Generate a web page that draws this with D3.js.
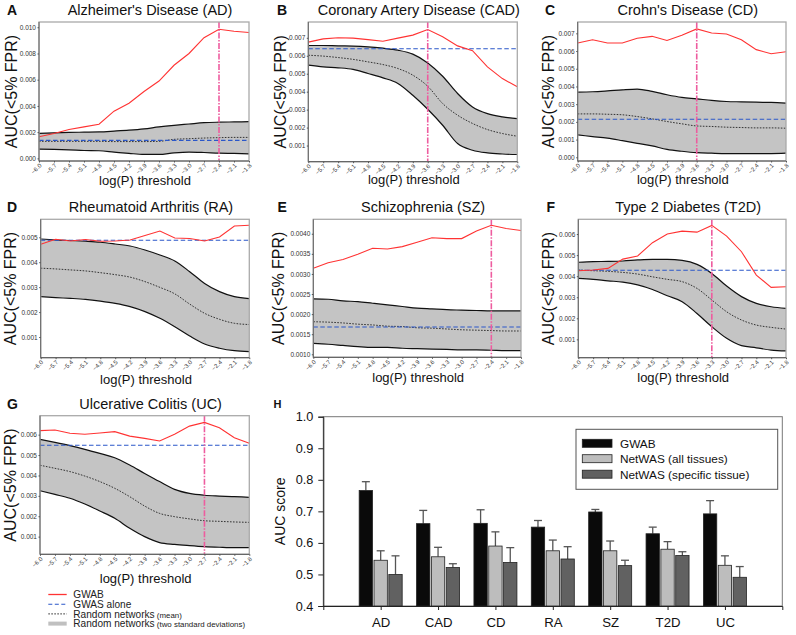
<!DOCTYPE html>
<html><head><meta charset="utf-8">
<script src="https://cdn.jsdelivr.net/npm/d3@7"></script>
<style>
body{margin:0;background:#fff}
svg{display:block}
text{font-family:"Liberation Sans",Arial,Helvetica,sans-serif}
</style>
</head><body>
<svg id="chart" width="796" height="635"></svg>
<script>
// ---------- DATA ----------
const logP = [-6.0,-5.7,-5.4,-5.1,-4.8,-4.5,-4.2,-3.9,-3.6,-3.3,-3.0,-2.7,-2.4,-2.1,-1.8];

// A: Alzheimer's Disease
const adGWAB  = [0.00165,0.0019,0.0022,0.0024,0.0026,0.0036,0.0042,0.0051,0.0059,0.0071,0.0080,0.0092,0.00985,0.0097,0.0096];
const adUpper = [0.0019,0.00195,0.00198,0.0020,0.00202,0.00208,0.00215,0.00225,0.0024,0.00252,0.00262,0.00272,0.00276,0.00278,0.0028];
const adMean  = [0.0013,0.0013,0.0013,0.0013,0.0013,0.00128,0.00128,0.00128,0.0013,0.00145,0.0015,0.00155,0.00158,0.0016,0.0016];
const adLower = [0.0007,0.00068,0.00065,0.0006,0.00058,0.00048,0.00038,0.0003,0.0003,0.00042,0.00048,0.00045,0.0004,0.00038,0.00035];
const adGWAS = 0.00137, adBest = -2.4;
const adTicks = [0,0.002,0.004,0.006,0.008,0.010];

// B: Coronary Artery Disease
const cadGWAB  = [0.00676,0.00694,0.0070,0.00698,0.0069,0.00681,0.00698,0.00715,0.00746,0.00706,0.00655,0.00628,0.00538,0.00473,0.00427];
const cadUpper = [0.00657,0.00657,0.00655,0.00654,0.0065,0.00642,0.00631,0.00609,0.0056,0.00486,0.0039,0.00315,0.00278,0.0026,0.0025];
const cadMean  = [0.00603,0.00598,0.0059,0.0058,0.00566,0.00551,0.00529,0.00492,0.0043,0.00334,0.00269,0.00223,0.00189,0.00167,0.00152];
const cadLower = [0.00548,0.00538,0.00533,0.00524,0.00501,0.00477,0.00446,0.0038,0.00302,0.00213,0.00111,0.00074,0.00059,0.00053,0.0005];
const cadGWAS = 0.00639, cadBest = -3.6;
const cadTicks = [0.001,0.002,0.003,0.004,0.005,0.006,0.007];

// C: Crohn's Disease
const cdGWAB  = [0.00645,0.00664,0.00645,0.00645,0.00672,0.00683,0.0066,0.00689,0.00725,0.00702,0.00696,0.00664,0.00608,0.00585,0.00596];
const cdUpper = [0.00368,0.0037,0.00375,0.00381,0.00385,0.00372,0.00353,0.00338,0.0033,0.00321,0.00315,0.00313,0.00311,0.0031,0.00306];
const cdMean  = [0.00245,0.00245,0.00243,0.0024,0.0023,0.00217,0.00202,0.00189,0.00177,0.00174,0.0017,0.00168,0.00166,0.00166,0.00164];
const cdLower = [0.00126,0.00117,0.00108,0.00094,0.00079,0.00064,0.00045,0.00034,0.00026,0.00023,0.00021,0.00021,0.00021,0.00021,0.00023];
const cdGWAS = 0.00215, cdBest = -3.6;
const cdTicks = [0,0.001,0.002,0.003,0.004,0.005,0.006,0.007];

// D: Rheumatoid Arthritis
const raGWAB  = [0.00472,0.00492,0.00485,0.00491,0.00484,0.00485,0.00489,0.00507,0.00525,0.00497,0.00495,0.00485,0.00501,0.00545,0.00548];
const raUpper = [0.00493,0.00489,0.00487,0.00484,0.0048,0.00473,0.00465,0.00449,0.00429,0.00405,0.00362,0.00315,0.00282,0.00262,0.00254];
const raMean  = [0.00376,0.00373,0.00369,0.00365,0.00358,0.0035,0.0034,0.00322,0.00299,0.00273,0.00232,0.00195,0.00171,0.00155,0.0015];
const raLower = [0.00262,0.00258,0.00255,0.00251,0.00244,0.00235,0.00222,0.00202,0.00175,0.00141,0.00104,0.00072,0.00055,0.00045,0.00041];
const raGWAS = 0.00488, raBest = null;
const raTicks = [0.001,0.002,0.003,0.004,0.005];

// E: Schizophrenia
const szGWAB  = [0.00314,0.00328,0.00336,0.00349,0.00364,0.00362,0.00368,0.00379,0.0039,0.00388,0.00388,0.00407,0.00421,0.00413,0.00408];
const szUpper = [0.00238,0.00237,0.00233,0.00231,0.00227,0.00223,0.00219,0.00215,0.00213,0.00211,0.0021,0.00209,0.00208,0.00208,0.00208];
const szMean  = [0.00181,0.0018,0.00178,0.00175,0.00173,0.0017,0.00169,0.00166,0.00165,0.00163,0.00161,0.0016,0.00159,0.00158,0.00158];
const szLower = [0.00127,0.00125,0.00122,0.00119,0.00117,0.00117,0.00115,0.00114,0.00113,0.00112,0.00111,0.00111,0.0011,0.00109,0.00109];
const szGWAS = 0.00168, szBest = -2.4;
const szTicks = [0.0010,0.0015,0.0020,0.0025,0.0030,0.0035,0.0040];

// F: Type 2 Diabetes
const t2dGWAB  = [0.00426,0.00429,0.00437,0.00481,0.00496,0.00559,0.0060,0.00614,0.00609,0.00641,0.0059,0.00516,0.00405,0.00347,0.0035];
const t2dUpper = [0.00466,0.00469,0.0047,0.00472,0.00477,0.0048,0.0048,0.00475,0.00456,0.00413,0.00353,0.00303,0.00271,0.00255,0.00247];
const t2dMean  = [0.00429,0.00426,0.00423,0.00418,0.0041,0.00397,0.00385,0.00374,0.00342,0.00287,0.00231,0.00192,0.00168,0.00157,0.00149];
const t2dLower = [0.0039,0.00385,0.00378,0.00372,0.00359,0.00337,0.00307,0.00279,0.00223,0.0016,0.00105,0.0007,0.0006,0.00049,0.00045];
const t2dGWAS = 0.00428, t2dBest = -3.3;
const t2dTicks = [0.001,0.002,0.003,0.004,0.005,0.006];

// G: Ulcerative Colitis
const ucGWAB  = [0.0062,0.00623,0.00607,0.00602,0.00608,0.00615,0.00593,0.00582,0.00569,0.00602,0.00642,0.0066,0.00634,0.00585,0.00558];
const ucUpper = [0.00577,0.00562,0.00546,0.00528,0.00508,0.00487,0.00451,0.0041,0.0037,0.00332,0.00312,0.00303,0.00299,0.00296,0.00293];
const ucMean  = [0.0045,0.00435,0.00419,0.00397,0.0037,0.00337,0.00296,0.0025,0.00214,0.00198,0.00187,0.00178,0.00175,0.00172,0.0017];
const ucLower = [0.00325,0.00307,0.00288,0.0026,0.00226,0.0019,0.00141,0.001,0.00071,0.00062,0.00056,0.00051,0.00048,0.00046,0.00046];
const ucGWAS = 0.00548, ucBest = -2.7;
const ucTicks = [0.001,0.002,0.003,0.004,0.005,0.006];

// H: AUC scores
const diseases = ["AD","CAD","CD","RA","SZ","T2D","UC"];
const barSeries = ["GWAB","NetWAS (all tissues)","NetWAS (specific tissue)"];
const gwabAUC = [0.766,0.661,0.662,0.650,0.698,0.629,0.692];
const gwabErr = [0.028,0.042,0.043,0.021,0.008,0.021,0.042];
const allAUC  = [0.545,0.556,0.590,0.575,0.575,0.580,0.529];
const allErr  = [0.030,0.030,0.045,0.034,0.031,0.024,0.030];
const specAUC = [0.500,0.522,0.538,0.549,0.528,0.560,0.491];
const specErr = [0.059,0.012,0.047,0.039,0.017,0.012,0.034];
const hTicks = [0.4,0.5,0.6,0.7,0.8,0.9,1.0];

const lineLegend = [
  {label:"GWAB", small:""},
  {label:"GWAS alone", small:""},
  {label:"Random networks", small:" (mean)"},
  {label:"Random networks", small:" (two standard deviations)"}
];

// ---------- LAYOUT ----------
const panels = [
  {L:"A", title:"Alzheimer's Disease (AD)", g:adGWAB, u:adUpper, m:adMean, l:adLower, gw:adGWAS, best:adBest, ticks:adTicks, fmt:".3f",
   dom:[-0.0002,0.0104], box:[39,22,249,161], lx:7, ylx:11, xlb:185},
  {L:"B", title:"Coronary Artery Disease (CAD)", g:cadGWAB, u:cadUpper, m:cadMean, l:cadLower, gw:cadGWAS, best:cadBest, ticks:cadTicks, fmt:".3f",
   dom:[0.0001,0.00788], box:[308.3,22,517.3,161.7], lx:277, ylx:280, xlb:184},
  {L:"C", title:"Crohn's Disease (CD)", g:cdGWAB, u:cdUpper, m:cdMean, l:cdLower, gw:cdGWAS, best:cdBest, ticks:cdTicks, fmt:".3f",
   dom:[-0.00021,0.00764], box:[577.7,22,786,161], lx:545, ylx:548, xlb:184.3},
  {L:"D", title:"Rheumatoid Arthritis (RA)", g:raGWAB, u:raUpper, m:raMean, l:raLower, gw:raGWAS, best:raBest, ticks:raTicks, fmt:".3f",
   dom:[0.00017,0.00572], box:[40.7,219.3,249.3,357.7], lx:7, ylx:10, xlb:384.3},
  {L:"E", title:"Schizophrenia (SZ)", g:szGWAB, u:szUpper, m:szMean, l:szLower, gw:szGWAS, best:szBest, ticks:szTicks, fmt:".4f",
   dom:[0.000925,0.00436], box:[313.3,219.3,521,357.3], lx:277.5, ylx:278, xlb:381.7},
  {L:"F", title:"Type 2 Diabetes (T2D)", g:t2dGWAB, u:t2dUpper, m:t2dMean, l:t2dLower, gw:t2dGWAS, best:t2dBest, ticks:t2dTicks, fmt:".3f",
   dom:[0.00013,0.0067], box:[578.3,219.3,786,357.7], lx:546.5, ylx:548, xlb:381.7},
  {L:"G", title:"Ulcerative Colitis (UC)", g:ucGWAB, u:ucUpper, m:ucMean, l:ucLower, gw:ucGWAS, best:ucBest, ticks:ucTicks, fmt:".3f",
   dom:[0.000134,0.00693], box:[40,415.7,249.3,554.3], lx:7, ylx:10, xlb:582.7}
];

const svg = d3.select("#chart");
const C = {red:"#ff3333", blue:"#2b57c9", band:"#c4c4c4", pink:"#ee5c9f"};
const defs = svg.append("defs");

panels.forEach((p, pi) => {
  const [x0,y0,x1,y1] = p.box;
  const x = d3.scaleLinear().domain([-6.0,-1.8]).range([x0,x1]);
  const y = d3.scaleLinear().domain(p.dom).range([y1,y0]);
  const g = svg.append("g");
  const cid = "clip"+pi;
  defs.append("clipPath").attr("id",cid).append("rect")
    .attr("x",x0).attr("y",y0).attr("width",x1-x0).attr("height",y1-y0);
  const pg = g.append("g").attr("clip-path",`url(#${cid})`);

  const idx = d3.range(logP.length);
  const area = d3.area().x(i=>x(logP[i])).y0(i=>y(p.l[i])).y1(i=>y(p.u[i])).curve(d3.curveMonotoneX);
  pg.append("path").attr("d",area(idx)).attr("fill",C.band);
  const lineOf = arr => d3.line().x(i=>x(logP[i])).y(i=>y(arr[i])).curve(d3.curveMonotoneX)(idx);
  pg.append("path").attr("d",lineOf(p.u)).attr("fill","none").attr("stroke","#111").attr("stroke-width",1.2);
  pg.append("path").attr("d",lineOf(p.l)).attr("fill","none").attr("stroke","#111").attr("stroke-width",1.2);
  pg.append("path").attr("d",lineOf(p.m)).attr("fill","none").attr("stroke","#222").attr("stroke-width",0.9).attr("stroke-dasharray","1.6,1.4");
  pg.append("line").attr("x1",x0).attr("x2",x1).attr("y1",y(p.gw)).attr("y2",y(p.gw))
    .attr("stroke",C.blue).attr("stroke-width",1.1).attr("stroke-dasharray","4.5,2.5");
  const red = d3.line().x(i=>x(logP[i])).y(i=>y(p.g[i]));
  pg.append("path").attr("d",red(idx)).attr("fill","none").attr("stroke",C.red).attr("stroke-width",1.1);
  if (p.best !== null) {
    pg.append("line").attr("x1",x(p.best)).attr("x2",x(p.best)).attr("y1",y0).attr("y2",y1)
      .attr("stroke",C.pink).attr("stroke-width",1.6).attr("stroke-dasharray","6,1.5,1.5,1.5");
  }
  // frame
  g.append("rect").attr("x",x0).attr("y",y0).attr("width",x1-x0).attr("height",y1-y0)
    .attr("fill","none").attr("stroke","#aaa").attr("stroke-width",1.3);
  g.append("line").attr("x1",x0).attr("x2",x0).attr("y1",y0).attr("y2",y1).attr("stroke","#666").attr("stroke-width",1);
  g.append("line").attr("x1",x0).attr("x2",x1).attr("y1",y1).attr("y2",y1).attr("stroke","#555").attr("stroke-width",1);

  // y axis
  const ya = d3.axisLeft(y).tickValues(p.ticks).tickFormat(d3.format(p.fmt)).tickSize(1.5).tickPadding(1.5);
  const yg = g.append("g").attr("transform",`translate(${x0},0)`).call(ya);
  yg.select(".domain").remove();
  yg.selectAll("line").attr("stroke","#555");
  yg.selectAll("text").attr("font-size",6.5).attr("fill","#333");
  // x axis
  const xa = d3.axisBottom(x).tickValues(logP).tickFormat(d3.format(".1f")).tickSize(1.5).tickPadding(1);
  const xg = g.append("g").attr("transform",`translate(0,${y1})`).call(xa);
  xg.select(".domain").remove();
  xg.selectAll("line").attr("stroke","#555");
  xg.selectAll("text").attr("font-size",6).attr("fill","#333")
    .attr("text-anchor","end").attr("dy",null).attr("y",0)
    .attr("transform","translate(2.5,5) rotate(-45)");

  // texts
  svg.append("text").attr("x",(x0+x1)/2+6).attr("y",y0-7).attr("text-anchor","middle")
    .attr("font-size",14.5).attr("fill","#111").text(p.title);
  svg.append("text").attr("x",p.lx).attr("y",y0-7).attr("font-size",14).attr("font-weight","bold").attr("fill","#111").text(p.L);
  svg.append("text").attr("transform",`translate(${p.ylx},${(y0+y1)/2}) rotate(-90)`).attr("text-anchor","middle")
    .attr("dominant-baseline","central").attr("font-size",16).attr("fill","#111").text("AUC(<5% FPR)");
  svg.append("text").attr("x",(x0+x1)/2+1).attr("y",p.xlb).attr("text-anchor","middle")
    .attr("font-size",13).attr("fill","#111").text("log(P) threshold");
});

// line-panel legend
const lgY = [594.5, 604.2, 613.9, 623.6];
const lg = svg.append("g");
lineLegend.forEach((d,i) => {
  const yy = lgY[i];
  const ln = lg.append("line").attr("x1",48.3).attr("x2",66.7).attr("y1",yy).attr("y2",yy);
  if (i===0) ln.attr("stroke",C.red).attr("stroke-width",1.3);
  if (i===1) ln.attr("stroke",C.blue).attr("stroke-width",1.1).attr("stroke-dasharray","4,2.5");
  if (i===2) ln.attr("stroke","#333").attr("stroke-width",1).attr("stroke-dasharray","1.6,1.4");
  if (i===3) ln.attr("stroke","#c0c0c0").attr("stroke-width",4);
  const t = lg.append("text").attr("x",73.3).attr("y",yy+3.7).attr("font-size",10.1).attr("fill","#222").text(d.label);
  if (d.small) t.append("tspan").attr("font-size",7.9).text(d.small);
});

// ---------- PANEL H ----------
const hx0 = 323.3, hx1 = 782.3, hy0 = 416.7, hy1 = 606;
const hx = d3.scalePoint().domain(diseases).range([hx0,hx1]).padding(1);
const hs = d3.scaleBand().domain([0,1,2]).range([-21.5,21.5]).paddingInner(0.1);
const hy = d3.scaleLinear().domain([0.4,1.0]).range([hy1,hy0]);
const hg = svg.append("g");
const barVals = [gwabAUC, allAUC, specAUC];
const barErrs = [gwabErr, allErr, specErr];
const barFill = ["#0a0a0a","#bdbdbd","#616161"];

hg.append("rect").attr("x",hx0).attr("y",hy0).attr("width",hx1-hx0).attr("height",hy1-hy0)
  .attr("fill","none").attr("stroke","#777").attr("stroke-width",1);

barVals.forEach((vals, s) => {
  diseases.forEach((d, i) => {
    const bx = hx(d) + hs(s);
    const bw = hs.bandwidth();
    const v = vals[i], e = barErrs[s][i];
    const cx = bx + bw/2;
    hg.append("line").attr("x1",cx).attr("x2",cx).attr("y1",hy(v)).attr("y2",hy(v+e))
      .attr("stroke","#555").attr("stroke-width",1.3);
    hg.append("line").attr("x1",cx-4).attr("x2",cx+4).attr("y1",hy(v+e)).attr("y2",hy(v+e))
      .attr("stroke","#555").attr("stroke-width",1.3);
    hg.append("rect").attr("x",bx).attr("y",hy(v)).attr("width",bw).attr("height",hy1-hy(v))
      .attr("fill",barFill[s]).attr("stroke","#222").attr("stroke-width",0.8);
  });
});

const hya = d3.axisLeft(hy).tickValues(hTicks).tickFormat(d3.format(".1f")).tickSize(5).tickPadding(5);
const hyg = hg.append("g").attr("transform",`translate(${hx0},0)`).call(hya);
hyg.select(".domain").attr("stroke","#222");
hyg.selectAll("line").attr("stroke","#222");
hyg.selectAll("text").attr("font-size",12.7).attr("fill","#111");
const hxa = d3.axisBottom(hx).tickSize(4).tickPadding(8);
const hxg = hg.append("g").attr("transform",`translate(0,${hy1})`).call(hxa);
hxg.select(".domain").attr("stroke","#222");
hxg.selectAll("line").attr("stroke","#222");
hxg.selectAll("text").attr("font-size",13.2).attr("fill","#111");

svg.append("text").attr("transform",`translate(280,${(hy0+hy1)/2}) rotate(-90)`).attr("text-anchor","middle")
  .attr("dominant-baseline","central").attr("font-size",14).attr("fill","#111").text("AUC score");
svg.append("text").attr("x",273.5).attr("y",407.5).attr("font-size",11).attr("font-weight","bold").attr("fill","#111").text("H");

// H legend
const hl = svg.append("g");
hl.append("rect").attr("x",576).attr("y",429.3).attr("width",201.7).attr("height",60)
  .attr("fill","#fff").attr("stroke","#555").attr("stroke-width",1);
const hlY = [443.3, 458.7, 474.2];
barSeries.forEach((name, s) => {
  hl.append("rect").attr("x",582.3).attr("y",hlY[s]-4).attr("width",29.7).attr("height",8)
    .attr("fill",barFill[s]).attr("stroke","#222").attr("stroke-width",0.8);
  hl.append("text").attr("x",620).attr("y",hlY[s]+4.3).attr("font-size",11.8).attr("fill","#111").text(name);
});
</script>
</body></html>
